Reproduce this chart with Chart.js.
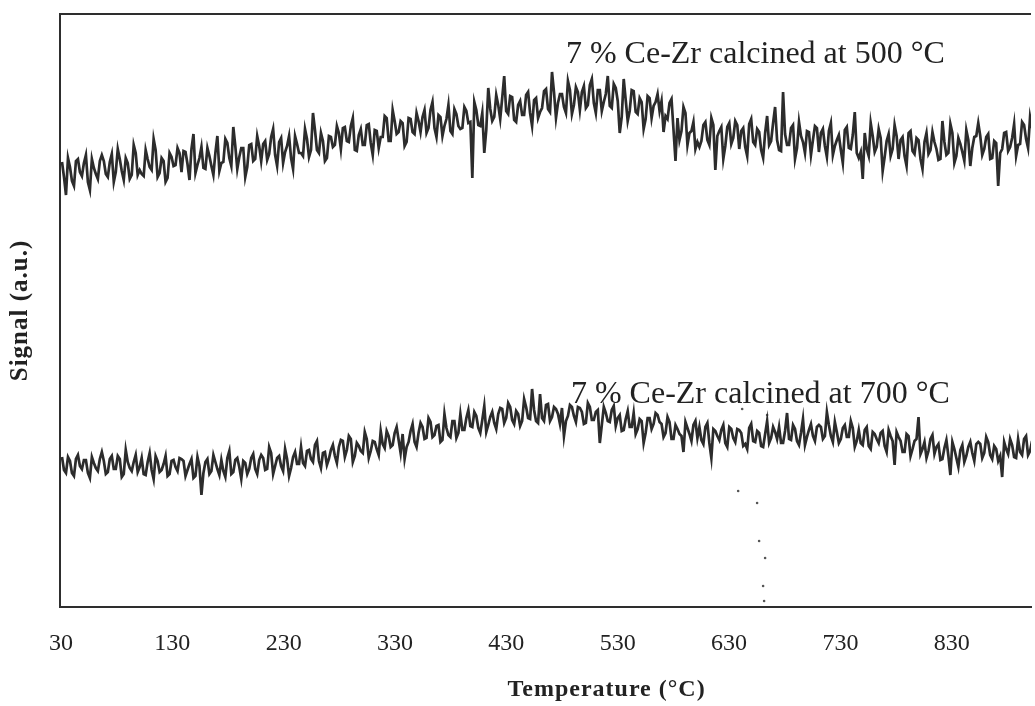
<!DOCTYPE html>
<html>
<head>
<meta charset="utf-8">
<script src="https://cdn.jsdelivr.net/npm/chart.js@4.4.1/dist/chart.umd.min.js"></script>
<style>
  html, body { margin: 0; padding: 0; background: #ffffff; }
  #wrap { width: 1035px; height: 706px; }
</style>
</head>
<body>
<div id="wrap"><canvas id="c" width="1035" height="706"></canvas></div>
<script>
// ---------- data ----------
const startTemp = 30.9;    // first sample (°C)
const stepTemp = 3.578;    // spacing between the "a" samples (°C); "b" samples sit half-way

// Signal (a.u.) of the sample calcined at 500 °C — samples a
const signal500a = [
  445,412,440,421,448,431,452,417,439,428,
  452,433,445,425,458,436,449,428,462,432,
  433,457,440,468,430,449,425,454,441,459,
  435,455,427,473,442,460,438,451,432,471,
  444,468,449,480,438,459,430,462,446,471,
  446,466,453,478,441,469,455,471,438,463,
  454,478,450,494,457,474,446,471,460,481,
  458,480,465,489,456,478,462,483,452,476,
  470,491,466,497,473,486,461,489,475,494,
  475,497,479,505,470,490,481,502,473,493,
  478,500,484,429,497,481,454,519,486,512,
  488,531,493,510,485,506,492,515,481,509,
  495,516,498,535,489,513,500,526,493,520,
  497,521,502,528,494,517,505,531,499,519,
  474,528,486,517,495,509,478,511,489,505,
  496,475,488,508,446,467,500,462,476,458,
  460,482,467,489,437,476,448,480,463,486,
  458,479,451,488,462,475,449,491,466,500,
  457,515,462,479,448,485,465,476,452,481,
  455,478,450,484,461,472,444,480,458,495,
  449,428,458,484,455,478,436,466,451,482,
  448,470,441,476,453,467,438,474,457,465,
  447,486,452,483,444,469,455,477,441,470,
  484,452,470,448,466,421,458,475,460,483,
  462,485,468,490
];
// samples b (half-way between the a samples)
const signal500b = [
  430,449,426,446,435,444,425,448,433,446,
  446,430,453,435,448,427,444,432,454,437,
  431,448,437,457,434,446,429,450,442,454,
  456,443,458,434,449,439,459,441,454,436,
  445,464,441,461,450,459,440,463,448,461,
  463,447,470,452,465,444,461,449,471,454,
  451,468,457,477,454,466,449,470,462,474,
  479,466,481,457,472,462,482,464,477,459,
  470,489,466,486,475,484,465,488,473,486,
  490,474,497,479,492,471,488,476,498,481,
  479,496,485,505,482,494,477,498,490,502,
  509,496,511,487,502,492,512,494,507,489,
  499,518,495,515,504,513,494,517,502,515,
  515,499,522,504,517,496,513,501,523,506,
  490,507,496,516,493,505,488,509,501,513,
  506,491,504,477,489,476,494,474,485,465,
  466,485,462,482,471,480,461,484,469,482,
  476,460,483,465,478,457,474,462,484,467,
  456,473,462,482,459,471,454,475,467,479,
  474,461,476,452,467,457,477,459,472,454,
  455,474,451,471,460,469,450,473,458,471,
  467,451,474,456,469,448,465,453,475,458,
  448,465,454,474,451,463,446,467,459,471,
  471,458,473,449,464,454,474,456,469,451,
  463,482,459,479
];

// Signal (a.u.) of the sample calcined at 700 °C — samples a
const signal700a = [
  150,134,146,131,152,138,147,129,144,136,
  155,133,148,138,151,130,157,139,145,135,
  149,132,154,128,146,137,151,133,147,136,
  148,131,143,129,150,112,145,133,152,138,
  147,130,156,135,149,128,144,138,153,133,
  152,137,160,133,149,141,158,131,150,143,
  160,141,157,145,166,139,155,148,162,144,
  167,150,171,145,164,156,175,149,166,158,
  176,159,171,162,180,154,148,165,183,160,
  184,168,189,170,181,165,193,172,186,169,
  193,177,197,180,191,174,201,182,195,178,
  199,184,204,187,196,181,208,189,218,186,
  213,186,203,190,198,183,171,191,200,185,
  199,183,204,187,195,164,200,186,197,181,
  192,177,196,180,173,188,164,189,178,194,
  185,170,190,168,182,173,155,179,166,186,
  180,163,184,149,176,167,182,160,178,165,
  177,161,158,183,165,174,160,186,169,175,
  180,164,194,167,178,162,188,170,183,166,
  182,168,195,171,185,164,179,170,186,160,
  177,162,180,158,173,164,176,155,171,142,
  170,155,173,151,166,190,158,149,168,153,
  163,148,167,132,158,140,162,151,165,146,
  165,149,170,152,161,146,130,158,168,150,
  168,152,171,156
];
// samples b (half-way between the a samples)
const signal700b = [
  137,150,134,148,141,147,134,150,139,148,
  146,135,151,138,148,133,145,136,152,140,
  133,145,137,151,135,143,131,146,140,149,
  146,137,148,131,141,134,148,136,145,132,
  136,149,133,147,140,146,133,149,138,147,
  149,138,154,141,151,136,148,139,155,143,
  144,156,148,162,146,154,142,157,151,160,
  166,157,168,151,161,154,168,156,165,152,
  163,176,160,174,167,173,160,176,165,174,
  180,169,185,172,182,167,179,170,186,174,
  177,189,181,195,179,187,175,190,184,193,
  198,189,200,183,193,186,200,188,197,184,
  189,202,186,200,193,199,186,202,191,200,
  195,184,200,187,197,182,194,185,201,189,
  176,188,180,194,178,186,174,189,183,192,
  183,174,185,168,178,171,185,173,182,169,
  167,180,164,178,171,177,164,180,169,178,
  174,163,179,166,176,161,173,164,180,168,
  164,176,168,182,166,174,162,177,171,180,
  180,171,182,165,175,168,182,170,179,166,
  164,177,161,175,168,174,161,177,166,175,
  166,155,171,158,168,153,165,156,172,160,
  147,159,151,165,149,157,145,160,154,163,
  163,154,165,148,158,151,165,153,162,149,
  155,168,152,166
];

// stray dots seen in the scan
const strayTemps  = [641.8, 664.2, 638.2, 655.2, 657.0, 662.4, 660.6, 661.5, 658.8, 657.9, 655.2, 639.1, 655.2];
const strayValues = [198,   192,   116,   104,   66,    49,    21,    6,     -7,    -46,   -59,   -91,   -91];

const tickLabels = [30, 130, 230, 330, 430, 530, 630, 730, 830];

const seriesNames = ['7 % Ce-Zr calcined at 500 °C', '7 % Ce-Zr calcined at 700 °C'];
const xTitle = 'Temperature (°C)';
const yTitle = 'Signal (a.u.)';

// ---------- build ----------
function toPoints(a, b) {
  const pts = [];
  a.forEach((v, i) => {
    pts.push({ x: startTemp + i * stepTemp, y: v });
    if (i < b.length) pts.push({ x: startTemp + (i + 0.5) * stepTemp, y: b[i] });
  });
  return pts;
}
const strayPoints = strayTemps.map((t, i) => ({ x: t, y: strayValues[i] }));

// where the series names are written (temperature, signal at the text baseline)
const labelAnchors = [ { t: 483.5, v: 544 }, { t: 488.0, v: 204 } ];
const xTitleAt = { t: 520, y: 690 };

const SERIF = '"Liberation Serif", "Times New Roman", serif';

const overlay = {
  id: 'overlay',
  afterDraw(chart) {
    const { ctx, chartArea: a, scales: { x, y } } = chart;
    ctx.save();
    ctx.strokeStyle = '#2e2e2e';
    ctx.lineWidth = 2;
    ctx.beginPath();
    ctx.moveTo(a.left - 1, a.top);
    ctx.lineTo(a.right, a.top);
    ctx.stroke();

    ctx.fillStyle = '#222';
    ctx.font = '32px ' + SERIF;
    ctx.textAlign = 'left';
    ctx.textBaseline = 'alphabetic';
    seriesNames.forEach((name, i) => {
      ctx.fillText(name, x.getPixelForValue(labelAnchors[i].t), y.getPixelForValue(labelAnchors[i].v));
    });

    ctx.font = 'bold 24px ' + SERIF;
    ctx.textAlign = 'center';
    ctx.textBaseline = 'middle';
    if ('letterSpacing' in ctx) ctx.letterSpacing = '1px';
    ctx.fillText(xTitle, x.getPixelForValue(xTitleAt.t), xTitleAt.y);

    ctx.translate(21, (a.top + a.bottom) / 2);
    ctx.rotate(-Math.PI / 2);
    ctx.font = 'bold 25px ' + SERIF;
    if ('letterSpacing' in ctx) ctx.letterSpacing = '1px';
    ctx.fillText(yTitle, 0, 0);
    ctx.restore();
  }
};

new Chart(document.getElementById('c'), {
  type: 'line',
  data: {
    datasets: [
      { label: seriesNames[0], data: toPoints(signal500a, signal500b), borderColor: '#2c2c2c', borderWidth: 2.7, pointRadius: 0, tension: 0 },
      { label: seriesNames[1], data: toPoints(signal700a, signal700b), borderColor: '#2c2c2c', borderWidth: 2.7, pointRadius: 0, tension: 0 },
      { label: 'stray', data: strayPoints, showLine: false, pointRadius: 1.3, pointBorderWidth: 0, pointBackgroundColor: '#555', clip: false }
    ]
  },
  options: {
    responsive: false,
    devicePixelRatio: 1,
    animation: false,
    layout: { padding: { top: 14, right: 0, left: 0, bottom: 0 } },
    plugins: { legend: { display: false }, tooltip: { enabled: false } },
    scales: {
      x: {
        type: 'linear',
        min: 29.1,
        max: 901.2,
        grid: { display: false, drawTicks: false },
        border: { display: true, color: '#2e2e2e', width: 2 },
        afterBuildTicks: s => { s.ticks = tickLabels.map(v => ({ value: v })); },
        afterFit: s => { s.height = 99; },
        ticks: {
          autoSkip: false,
          maxRotation: 0,
          padding: 22,
          color: '#222',
          font: { family: SERIF, size: 24 },
          callback: v => String(v)
        }
      },
      y: {
        type: 'linear',
        min: 0,
        max: 593,
        grid: { display: false, drawTicks: false },
        border: { display: true, color: '#2e2e2e', width: 2 },
        ticks: { display: false },
        afterFit: s => { s.width = 60; },
        title: { display: false, text: yTitle }
      }
    }
  },
  plugins: [overlay]
});
</script>
</body>
</html>
